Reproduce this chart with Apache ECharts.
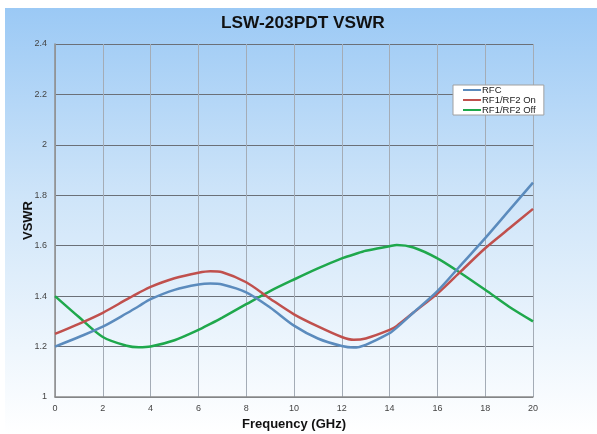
<!DOCTYPE html>
<html>
<head>
<meta charset="utf-8">
<script src="https://cdn.jsdelivr.net/npm/echarts@6/dist/echarts.min.js"></script>
<style>
html,body{margin:0;padding:0;background:#ffffff;}
#chart{width:597px;height:434px;}
</style>
</head>
<body>
<div id="chart"></div>
<script>
var freq  = [0,1,2,3,3.5,4,5,6,6.5,7,8,9,10,11,12,12.5,13,14,14.3,15,16,17,18,19,20];
var rfc   = [1.20,1.238,1.279,1.332,1.36,1.388,1.425,1.446,1.45,1.446,1.415,1.355,1.283,1.232,1.202,1.196,1.207,1.253,1.275,1.335,1.42,1.525,1.63,1.74,1.85];
var rfOn  = [1.25,1.29,1.334,1.387,1.413,1.437,1.471,1.493,1.499,1.495,1.455,1.39,1.328,1.28,1.238,1.227,1.232,1.266,1.282,1.335,1.41,1.50,1.59,1.668,1.746];
var rfOff = [1.40,1.317,1.238,1.203,1.197,1.20,1.225,1.266,1.29,1.315,1.368,1.42,1.466,1.51,1.55,1.565,1.58,1.598,1.603,1.593,1.55,1.49,1.425,1.358,1.30];
var seriesNames = ['RFC','RF1/RF2 On','RF1/RF2 Off'];
var seriesColors = ['#5b8bbd','#c0504d','#1fa84c'];

function pairs(ys){ return freq.map(function(f,i){ return [f, ys[i]]; }); }

var chart = echarts.init(document.getElementById('chart'));
var allData = [rfc, rfOn, rfOff];
chart.setOption({
  animation: false,
  graphic: {
    elements: [{
      type: 'rect', z: -100, silent: true,
      shape: {x: 5, y: 8, width: 592, height: 426},
      style: {fill: new echarts.graphic.LinearGradient(0,0,0,1,[
        {offset:0, color:'#9bc9f5'},
        {offset:0.45, color:'#cfe5f9'},
        {offset:0.8, color:'#eef6fd'},
        {offset:1, color:'#ffffff'}
      ])}
    }]
  },
  title: {
    text: 'LSW-203PDT VSWR',
    left: 221, top: 15, padding: 0,
    textStyle: {fontFamily: 'Liberation Sans, Arial', fontWeight: 'bold', fontSize: 17.3, color: '#111'}
  },
  legend: {
    orient: 'vertical',
    left: 453, top: 85,
    itemWidth: 18, itemHeight: 2, itemGap: 0,
    icon: 'rect',
    padding: [0, 8, 0, 10],
    backgroundColor: '#ffffff',
    borderColor: '#a0a0a0', borderWidth: 1,
    textStyle: {fontFamily: 'Liberation Sans, Arial', fontSize: 9.5, lineHeight: 10, color: '#222', padding: [0,0,0,-4]},
    data: seriesNames
  },
  grid: {left: 55, right: 64, top: 44, bottom: 37, containLabel: false, outerBoundsMode: 'none'},
  xAxis: {
    type: 'value', min: 0, max: 20, interval: 2,
    name: 'Frequency (GHz)', nameLocation: 'middle', nameGap: 21, nameMoveOverlap: false,
    nameTextStyle: {fontFamily: 'Liberation Sans, Arial', fontWeight: 'bold', fontSize: 13, color: '#111'},
    axisLine: {show: true, lineStyle: {color: '#8c8c8c', width: 1.5}},
    axisTick: {show: false},
    axisLabel: {fontFamily: 'Liberation Sans, Arial', fontSize: 9, color: '#444', margin: 7},
    splitLine: {show: true, lineStyle: {color: '#a4acb6', width: 1}}
  },
  yAxis: {
    type: 'value', min: 1, max: 2.4, interval: 0.2,
    name: 'VSWR', nameLocation: 'middle', nameGap: 20, nameRotate: 90, nameMoveOverlap: false,
    nameTextStyle: {fontFamily: 'Liberation Sans, Arial', fontWeight: 'bold', fontSize: 13, color: '#111'},
    axisLine: {show: true, lineStyle: {color: '#8c8c8c', width: 1.5}},
    axisTick: {show: false},
    axisLabel: {fontFamily: 'Liberation Sans, Arial', fontSize: 9, color: '#444', margin: 8},
    splitLine: {show: true, lineStyle: {color: '#6b7078', width: 1}}
  },
  series: seriesNames.map(function(n, i){
    return {
      name: n, type: 'line', smooth: 0.3, showSymbol: false,
      data: pairs(allData[i]),
      lineStyle: {width: 2.5, color: seriesColors[i]},
      itemStyle: {color: seriesColors[i]},
      z: 3 + (2 - i)
    };
  })
});
</script>
</body>
</html>
